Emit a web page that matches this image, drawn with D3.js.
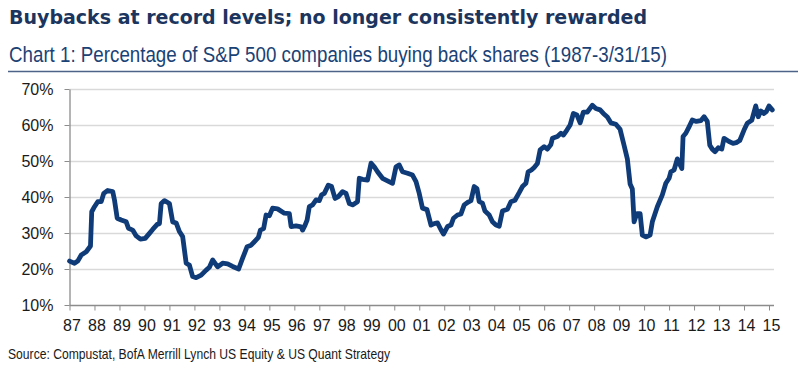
<!DOCTYPE html>
<html>
<head>
<meta charset="utf-8">
<script src="https://cdn.jsdelivr.net/npm/d3@7"></script>
<style>
  html, body { margin: 0; padding: 0; background: #fff; }
  svg { display: block; }
</style>
</head>
<body>
<svg id="chart" width="804" height="366"></svg>
<script>
// ---- data (decimal year, % of S&P 500 companies buying back shares) ----
const years = [
  1987.00,1987.20,1987.33,1987.47,1987.67,1987.84,1987.89,1988.00,1988.13,1988.27,
  1988.37,1988.53,1988.73,1988.80,1988.91,1989.07,1989.27,1989.36,1989.53,1989.67,
  1989.84,1990.03,1990.20,1990.33,1990.51,1990.60,1990.67,1990.80,1991.00,1991.13,
  1991.27,1991.40,1991.53,1991.67,1991.80,1991.93,1992.07,1992.27,1992.47,1992.60,
  1992.73,1992.93,1993.13,1993.33,1993.53,1993.77,1993.93,1994.11,1994.27,1994.47,
  1994.56,1994.64,1994.77,1994.87,1995.00,1995.13,1995.33,1995.60,1995.80,1995.87,
  1996.07,1996.27,1996.33,1996.43,1996.51,1996.60,1996.73,1996.87,1997.00,1997.09,
  1997.20,1997.36,1997.49,1997.63,1997.76,1997.93,1998.07,1998.20,1998.33,1998.53,
  1998.60,1998.73,1998.93,1999.07,1999.20,1999.33,1999.53,1999.73,1999.93,2000.07,
  2000.20,2000.33,2000.53,2000.73,2000.87,2001.00,2001.13,2001.31,2001.47,2001.60,
  2001.73,2001.87,2001.97,2002.13,2002.27,2002.37,2002.53,2002.67,2002.80,2002.96,
  2003.07,2003.20,2003.31,2003.40,2003.53,2003.63,2003.80,2003.93,2004.07,2004.20,
  2004.33,2004.53,2004.67,2004.83,2005.00,2005.13,2005.27,2005.36,2005.49,2005.60,
  2005.73,2005.84,2006.00,2006.13,2006.27,2006.33,2006.53,2006.67,2006.77,2006.91,
  2007.04,2007.17,2007.31,2007.44,2007.57,2007.73,2007.93,2008.07,2008.24,2008.37,
  2008.53,2008.67,2008.87,2009.04,2009.20,2009.33,2009.44,2009.53,2009.60,2009.71,
  2009.84,2009.93,2010.07,2010.24,2010.33,2010.53,2010.73,2010.87,2011.00,2011.07,
  2011.20,2011.33,2011.43,2011.51,2011.56,2011.67,2011.80,2011.93,2012.09,2012.27,
  2012.40,2012.53,2012.63,2012.73,2012.84,2012.97,2013.11,2013.20,2013.40,2013.56,
  2013.69,2013.83,2014.00,2014.13,2014.31,2014.47,2014.57,2014.67,2014.80,2014.89,
  2015.00,2015.13
];
const pct = [
  22.2,21.6,22.2,23.9,24.8,26.4,35.9,37.3,38.7,38.7,
  41.0,41.8,41.5,39.2,34.1,33.6,33.1,31.3,30.8,29.2,
  28.3,28.5,29.9,31.0,32.4,32.6,38.2,39.0,38.2,33.1,
  32.8,30.4,29.0,21.6,21.1,17.9,17.6,18.3,19.7,20.5,
  22.5,20.6,21.6,21.4,20.7,20.0,23.0,26.2,26.6,28.1,
  28.8,30.8,31.2,35.0,34.8,36.9,36.7,35.5,35.4,31.8,
  32.0,31.7,30.8,32.2,33.6,37.3,37.8,39.2,39.0,40.6,
  41.0,43.3,42.9,39.6,40.1,41.5,41.0,38.2,37.8,38.7,
  45.2,44.9,44.7,49.4,48.4,47.0,45.2,44.5,43.8,48.4,
  48.9,47.0,46.6,46.1,44.3,41.0,36.9,36.5,32.2,32.6,
  32.8,30.9,29.7,31.8,32.2,34.1,35.0,35.3,37.8,38.6,
  39.0,42.9,42.3,38.7,38.3,36.1,35.0,33.1,32.2,31.9,
  36.1,36.6,38.7,39.1,41.2,42.9,43.8,47.0,47.5,48.2,
  49.3,53.1,54.0,53.3,54.6,56.3,56.8,57.7,57.2,58.6,
  60.0,63.2,62.8,60.6,63.6,63.6,65.5,64.6,64.2,63.2,
  62.2,60.6,60.2,58.8,54.3,50.6,43.6,42.2,33.1,35.4,
  35.4,29.4,28.9,29.4,33.1,37.3,40.6,43.8,45.2,47.0,
  47.5,50.6,49.1,47.9,56.8,57.7,59.5,61.4,61.0,61.2,
  62.3,61.0,54.4,53.3,52.6,53.7,53.3,56.3,55.4,54.9,
  55.1,55.7,58.6,60.5,61.3,65.3,62.3,63.9,63.2,63.7,
  65.3,64.2
];
const yTicks = [10, 20, 30, 40, 50, 60, 70];
const xTickYears = d3.range(1987, 2016);
const xTickLabels = ["87","88","89","90","91","92","93","94","95","96","97","98","99","00",
  "01","02","03","04","05","06","07","08","09","10","11","12","13","14","15"];

const title = "Buybacks at record levels; no longer consistently rewarded";
const subtitle = "Chart 1: Percentage of S&P 500 companies buying back shares (1987-3/31/15)";
const source = "Source: Compustat, BofA Merrill Lynch US Equity & US Quant Strategy";

// ---- layout ----
const svg = d3.select("#chart");
const x = d3.scaleLinear().domain([1987, 2015]).range([69.5, 769]);
const y = d3.scaleLinear().domain([10, 70]).range([305, 89]);
const xEnd = 774;

// titles
svg.append("text").attr("x", 9).attr("y", 24)
  .attr("font-family", "'DejaVu Sans', Verdana, sans-serif")
  .attr("font-weight", "bold").attr("font-size", 19)
  .attr("fill", "#1c355e")
  .attr("textLength", 638).attr("lengthAdjust", "spacingAndGlyphs")
  .text(title);

svg.append("text").attr("x", 9).attr("y", 62)
  .attr("font-family", "'Liberation Sans Narrow', 'Arial Narrow', sans-serif")
  .attr("font-size", 22)
  .attr("fill", "#1a4275")
  .attr("textLength", 658).attr("lengthAdjust", "spacingAndGlyphs")
  .text(subtitle);

svg.append("line").attr("x1", 8).attr("x2", 798).attr("y1", 71.5).attr("y2", 71.5)
  .attr("stroke", "#4d6488").attr("stroke-width", 1.3);

// gridlines
const grid = svg.append("g").attr("class", "grid");
grid.selectAll("line").data(yTicks.filter(d => d > 10)).join("line")
  .attr("x1", 69.5).attr("x2", xEnd)
  .attr("y1", d => Math.round(y(d)) + 0.5).attr("y2", d => Math.round(y(d)) + 0.5)
  .attr("stroke", "#d9d9d9").attr("stroke-width", 1.5);

// y axis
const yAxis = svg.append("g").attr("transform", "translate(69.5,0)")
  .call(d3.axisLeft(y).tickValues(yTicks).tickFormat(d => d + "%").tickSize(5).tickSizeOuter(0));
yAxis.select(".domain").attr("stroke", "#8c8c8c").attr("stroke-width", 1.3);
yAxis.selectAll(".tick line").attr("stroke", "#8c8c8c");
yAxis.selectAll(".tick text")
  .attr("font-family", "'Liberation Sans', Arial, sans-serif")
  .attr("font-size", 16).attr("fill", "#1a1a1a").attr("x", -16).attr("dy", "0.36em");

// x axis
const xAxis = svg.append("g").attr("transform", "translate(0,305.5)")
  .call(d3.axisBottom(x).tickValues(xTickYears)
    .tickFormat((d, i) => xTickLabels[i]).tickSize(5).tickSizeOuter(0));
xAxis.select(".domain").attr("d", `M69.5,0H${xEnd}`).attr("stroke", "#8c8c8c").attr("stroke-width", 1.3);
xAxis.selectAll(".tick line").attr("stroke", "#8c8c8c");
xAxis.selectAll(".tick text")
  .attr("font-family", "'Liberation Sans', Arial, sans-serif")
  .attr("font-size", 16).attr("fill", "#1a1a1a").attr("y", 14).attr("dx", 2);

// series line
const data = years.map((t, i) => ({ t, v: pct[i] }));
svg.append("path").datum(data)
  .attr("fill", "none").attr("stroke", "#0f3b78").attr("stroke-width", 4.8)
  .attr("stroke-linejoin", "round").attr("stroke-linecap", "round")
  .attr("d", d3.line().x(d => x(d.t)).y(d => y(d.v)));

// source
svg.append("text").attr("x", 8).attr("y", 359)
  .attr("font-family", "'Liberation Sans Narrow', 'Arial Narrow', sans-serif")
  .attr("font-size", 14.5).attr("fill", "#1a1a1a")
  .attr("textLength", 382).attr("lengthAdjust", "spacingAndGlyphs")
  .text(source);
</script>
</body>
</html>
